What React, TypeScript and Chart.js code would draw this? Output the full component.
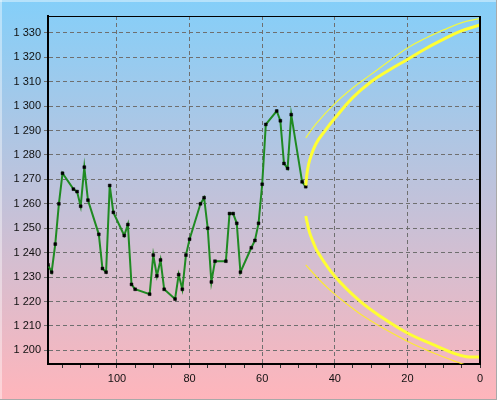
import React, { useEffect, useRef } from 'react';
import { Chart, registerables } from 'chart.js';

Chart.register(...registerables);

// Price history (x = days before the end, axis reversed)
const greenX = [119, 118, 117, 116, 115, 112, 111, 110, 109, 108, 105, 104, 103, 102, 101, 98, 97, 96, 95, 91, 90, 89, 88, 87, 84, 83, 82, 81, 80, 77, 76, 75, 74, 73, 70, 69, 68, 67, 66, 63, 62, 61, 60, 59, 56, 55, 54, 53, 52, 49, 48];
const greenY = [1235, 1232, 1243.5, 1260, 1272.5, 1266, 1265, 1259, 1275, 1261.5, 1247.5, 1233.5, 1232, 1267.5, 1256.5, 1247, 1251.5, 1227, 1225, 1223, 1239, 1230.5, 1237, 1225, 1221, 1231, 1225, 1239, 1245.5, 1260, 1262.5, 1250, 1228, 1236.5, 1236.5, 1256, 1256, 1252, 1232, 1242, 1245, 1252, 1268, 1292.5, 1298, 1294, 1276.5, 1274.5, 1296.5, 1269, 1267];

// Forecast cone curves
const upperThickX = [48, 47.6, 46.9, 45.1, 42.5, 40, 35, 30, 25, 20, 15, 10, 5.5, 0];
const upperThickY = [1267.5, 1273, 1278, 1284.8, 1290.3, 1295, 1303.6, 1310, 1314.8, 1319.1, 1323.5, 1327.4, 1330.6, 1333.2];
const upperThinX = [48, 45, 40, 35, 30, 25, 20, 15, 10, 5, 0];
const upperThinY = [1287, 1293, 1301, 1307.5, 1313, 1318.5, 1323.8, 1327.8, 1331.2, 1334.2, 1335.9];
const lowerThickX = [48, 47, 46, 44.6, 40, 33, 26.7, 20, 12.9, 7.4, 3.7, 0];
const lowerThickY = [1255, 1248.5, 1244.5, 1240, 1230.3, 1220, 1213.2, 1207.1, 1202.3, 1198.9, 1197.4, 1197.3];
const lowerThinX = [48, 44, 40, 31.3, 20, 12.9, 6.5, 3];
const lowerThinY = [1235, 1228.5, 1223, 1213.2, 1203.7, 1199, 1195.3, 1193.5];

const xTickValues = [0, 5, 10, 15, 20, 25, 30, 35, 40, 45, 50, 55, 60, 65, 70, 75, 80, 85, 90, 95, 100, 105, 110, 115];
const xLabelValues = [0, 20, 40, 60, 80, 100];
const yTickValues = [1200, 1210, 1220, 1230, 1240, 1250, 1260, 1270, 1280, 1290, 1300, 1310, 1320, 1330];

const pts = (xs: number[], ys: number[]) => xs.map((x, i) => ({ x, y: ys[i] }));

const fmtY = (v: number) => {
  const s = String(Math.round(v));
  return s.length > 3 ? s.slice(0, s.length - 3) + ' ' + s.slice(-3) : s;
};

export default function App() {
  const ref = useRef<HTMLCanvasElement>(null);

  useEffect(() => {
    document.body.style.margin = '0';
    if (!ref.current) return;

    const bgPlugin = {
      id: 'bgPlugin',
      beforeDraw(chart: any) {
        const { ctx, width, height } = chart;
        ctx.save();
        const g = ctx.createLinearGradient(0, 0, 0, height);
        g.addColorStop(0, '#84cff9');
        g.addColorStop(1, '#ffb5bb');
        ctx.fillStyle = g;
        ctx.fillRect(0, 0, width, height);
        ctx.fillStyle = 'rgba(255,255,255,0.4)';
        ctx.fillRect(0, 0, width, 2);
        ctx.fillRect(0, 0, 2, height);
        ctx.fillStyle = '#a9a9a9';
        ctx.fillRect(0, height - 1, width, 1);
        ctx.fillRect(width - 1, 0, 1, height);
        ctx.restore();
      },
    };

    const framePlugin = {
      id: 'framePlugin',
      afterDatasetsDraw(chart: any) {
        const { ctx, chartArea: a } = chart;
        ctx.save();
        ctx.strokeStyle = '#000';
        ctx.lineWidth = 1;
        ctx.beginPath();
        ctx.moveTo(a.left, a.top + 0.5);
        ctx.lineTo(a.right, a.top + 0.5);
        ctx.stroke();
        ctx.lineWidth = 2;
        ctx.beginPath();
        ctx.moveTo(a.right, a.top);
        ctx.lineTo(a.right, a.bottom);
        ctx.stroke();
        ctx.restore();
      },
    };

    const curve = (xs: number[], ys: number[], color: string, width: number) => ({
      data: pts(xs, ys),
      showLine: true,
      borderColor: color,
      borderWidth: width,
      pointRadius: 0,
      tension: 0.4,
      clip: 0,
    });

    const chart = new Chart(ref.current, {
      type: 'scatter',
      data: {
        datasets: [
          curve(upperThinX, upperThinY, 'rgba(255,255,40,0.85)', 1.2),
          curve(lowerThinX, lowerThinY, 'rgba(255,240,30,0.85)', 1.2),
          curve(upperThickX, upperThickY, '#ffff33', 3),
          curve(lowerThickX, lowerThickY, '#ffff33', 3),
          {
            data: pts(greenX, greenY),
            showLine: true,
            borderColor: '#1f8a22',
            borderWidth: 2,
            tension: 0,
            pointStyle: 'rect',
            pointRadius: 2,
            pointBackgroundColor: '#000',
            pointBorderColor: '#000',
            pointBorderWidth: 0.5,
            clip: 0,
          },
        ],
      },
      options: {
        animation: false,
        responsive: true,
        maintainAspectRatio: false,
        layout: { padding: { top: 16, right: 17, left: 0, bottom: 0 } },
        plugins: { legend: { display: false }, tooltip: { enabled: false } },
        scales: {
          x: {
            type: 'linear',
            reverse: true,
            min: 0,
            max: 119,
            afterBuildTicks: (s: any) => {
              s.ticks = xTickValues.map((v) => ({ value: v }));
            },
            afterFit: (s: any) => {
              s.height = 36;
            },
            ticks: {
              autoSkip: false,
              maxRotation: 0,
              padding: 4,
              color: '#111',
              font: { family: "'Liberation Sans', Arial, sans-serif", size: 11 },
              callback: (v: any) => (xLabelValues.includes(Number(v)) ? String(v) : ''),
            },
            grid: {
              color: (ctx: any) =>
                ctx.tick && ctx.tick.value % 20 === 0 && ctx.tick.value !== 0 ? '#6f6f6f' : 'rgba(0,0,0,0)',
              tickColor: '#333',
              tickLength: 4,
              lineWidth: 1,
            },
            border: { display: true, color: '#000', width: 2, dash: [4, 3] },
          },
          y: {
            type: 'linear',
            min: 1194.4,
            max: 1336.9,
            afterBuildTicks: (s: any) => {
              s.ticks = yTickValues.map((v) => ({ value: v }));
            },
            afterFit: (s: any) => {
              s.width = 48;
            },
            ticks: {
              padding: 3,
              color: '#111',
              font: { family: "'Liberation Sans', Arial, sans-serif", size: 11 },
              callback: (v: any) => fmtY(Number(v)),
            },
            grid: {
              color: '#6f6f6f',
              tickColor: '#6f6f6f',
              tickLength: 4,
              lineWidth: 1,
            },
            border: { display: true, color: '#000', width: 2, dash: [4, 3] },
          },
        },
      } as any,
      plugins: [bgPlugin, framePlugin],
    });

    return () => chart.destroy();
  }, []);

  return (
    <div style={{ width: 497, height: 400, position: 'relative' }}>
      <canvas ref={ref} />
    </div>
  );
}
